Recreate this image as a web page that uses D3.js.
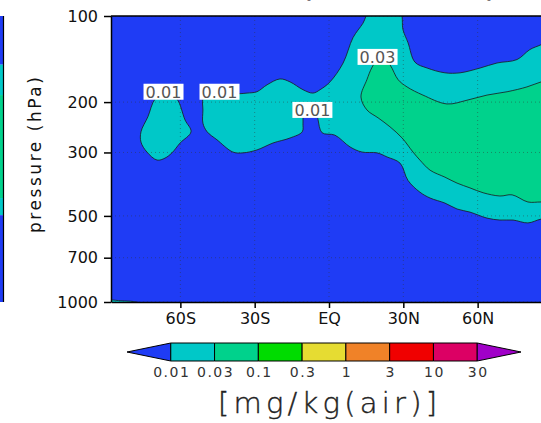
<!DOCTYPE html>
<html>
<head>
<meta charset="utf-8">
<script src="https://cdn.jsdelivr.net/npm/d3@7"></script>
<style>
body{margin:0;background:#fff;}
svg{display:block;font-family:"DejaVu Sans",sans-serif;}
</style>
</head>
<body>
<svg id="chart" width="541" height="423"></svg>
<script>
// contour levels (colorbar) and the fill colours between them
var levels = ["0.01","0.03","0.1","0.3","1","3","10","30"];
var colors = ["#1f3cf5","#00c8c8","#00d28c","#00dc00","#e6dc32","#f08228","#f00000","#dc0064","#a000c8"];

var latTicks = [-60,-30,0,30,60];
var latLabels = ["60S","30S","EQ","30N","60N"];
var presTicks = [100,200,300,500,700,1000];

// contour outlines, [lat, hPa]
var island60S = [[-70.2,195],[-73.1,225],[-75.9,254],[-75.9,276],[-73.5,299],[-69.4,319],[-66.2,314],
  [-63.4,301],[-60.1,278],[-55.7,254],[-58.1,231],[-61.4,195],[-65.8,184]];
var band001 = [[-50.9,195],[-49.5,188],[-42,187],[-36.3,187],[-33.1,186],[-29.1,184],[-25.0,174],[-19.8,166],
  [-15.7,170],[-10.5,181],[-6.5,186],[-3.6,181],[0.4,170],[5.7,146],[9.7,119],[13.7,106],[16.5,96],[28.5,96],
  [29.9,112],[31.9,124],[34.7,145],[39.6,152],[46.8,158],[52.9,158],[61.0,152],[67.8,146],[75.9,142],[81.1,131],
  [85.6,126],[92,118],[93,300],[92,505],[85.6,513],[80.3,529],[74.3,517],[69.0,517],[63.8,509],[56.9,485],
  [51.7,473],[46.8,451],[40.8,433],[36.7,413],[31.9,376],[28.7,327],[23.4,311],[19.4,301],[13.3,299],[8.5,287],
  [2.4,261],[-2.8,256],[-4.4,231],[-4.8,222],[-7.5,215],[-10.2,222],[-10.5,237],[-10.8,254],[-15.7,267],
  [-22.6,278],[-29.1,294],[-34.7,301],[-38.8,299],[-45.2,271],[-49.2,254],[-50.9,237],[-50.9,213]];
var band003 = [[17.4,151],[21.0,137],[24.6,148],[27.9,167],[31.5,177],[37.9,189],[47.6,203],[55.7,197],
  [63.8,189],[71.9,184],[79.9,177],[85.6,170],[92,165],[93,300],[92,450],[85.6,447],[80.3,447],[73.9,422],
  [69.0,426],[62.2,415],[56.9,399],[51.7,384],[46.8,366],[40.8,346],[36.7,319],[33.9,299],[29.5,267],
  [24.6,244],[19.8,227],[15.3,213],[12.9,192],[15.3,167]];
var surfaceBit = [[-92,1010],[-92,985],[-84,990],[-79,996],[-76,1010]];

var contourLabels = [[-66.8,184,"0.01"],[-44.2,184,"0.01"],[-6.7,213,"0.01"],[19.6,139,"0.03"]];

// sliver of the neighbouring panel on the left: [top hPa, bottom hPa, colour index]
var sliverBands = [[100,148,0],[148,189,1],[189,433,2],[433,497,1],[497,1000,0]];

var svg = d3.select("#chart");
svg.append("rect").attr("width",541).attr("height",423).attr("fill","#fff");

var x = d3.scaleLinear().domain([-88,88]).range([111,547]);
var y = d3.scaleLog().domain([100,1000]).range([16,302]);

// title, mostly cut off by the top of the picture
svg.append("text").attr("x",303).attr("y",-2).attr("textLength",192)
  .style("font-size","20px").style("font-weight","bold").text("(annual zonal mean)");

// neighbour panel sliver
svg.selectAll(".sliver").data(sliverBands).enter().append("rect")
  .attr("x",-5).attr("width",8.5)
  .attr("y",function(d){ return y(d[0]); })
  .attr("height",function(d){ return y(d[1]) - y(d[0]); })
  .attr("fill",function(d){ return colors[d[2]]; });
svg.append("line").attr("x1",3.5).attr("x2",3.5).attr("y1",16).attr("y2",302).attr("stroke","#000").attr("stroke-width",1.2);

svg.append("clipPath").attr("id","plotclip").append("rect")
  .attr("x",111).attr("y",16).attr("width",436).attr("height",286);

var plot = svg.append("g").attr("clip-path","url(#plotclip)");
plot.append("rect").attr("x",111).attr("y",16).attr("width",436).attr("height",286).attr("fill",colors[0]);

var outline = d3.line()
  .x(function(d){ return x(d[0]); })
  .y(function(d){ return y(d[1]); })
  .curve(d3.curveCatmullRomClosed.alpha(0.5));

var shapes = [[island60S,1],[band001,1],[band003,2],[surfaceBit,1]];
plot.selectAll(".cnt").data(shapes).enter().append("path")
  .attr("d",function(d){ return outline(d[0]); })
  .attr("fill",function(d){ return colors[d[1]]; })
  .attr("stroke","#1a1a1a").attr("stroke-width",0.8);

// dotted grid
plot.selectAll(".gx").data(latTicks).enter().append("line")
  .attr("x1",function(d){ return x(d); }).attr("x2",function(d){ return x(d); })
  .attr("y1",16).attr("y2",302)
  .attr("stroke","#333").attr("stroke-dasharray","1,3").attr("stroke-opacity",0.45);
plot.selectAll(".gy").data(presTicks).enter().append("line")
  .attr("x1",111).attr("x2",547)
  .attr("y1",function(d){ return y(d); }).attr("y2",function(d){ return y(d); })
  .attr("stroke","#333").attr("stroke-dasharray","1,3").attr("stroke-opacity",0.45);

// contour labels
var lab = plot.selectAll(".lab").data(contourLabels).enter().append("g")
  .attr("transform",function(d){ return "translate(" + x(d[0]) + "," + y(d[1]) + ")"; });
lab.append("rect").attr("x",-20).attr("y",-8).attr("width",40).attr("height",16).attr("fill","#fff");
lab.append("text").attr("text-anchor","middle").attr("dy","0.37em").attr("fill","#555")
  .attr("textLength",36)
  .style("font-size","16px").text(function(d){ return d[2]; });

// top frame line
svg.append("line").attr("x1",111).attr("x2",547).attr("y1",16).attr("y2",16).attr("stroke","#000").attr("stroke-width",1.5);

// axes
var yAxis = svg.append("g").attr("transform","translate(111,0)")
  .call(d3.axisLeft(y).tickValues(presTicks).tickFormat(d3.format("d")).tickSize(7).tickSizeOuter(0).tickPadding(6));
var xAxis = svg.append("g").attr("transform","translate(0,302)")
  .call(d3.axisBottom(x).tickValues(latTicks).tickFormat(function(d,i){ return latLabels[i]; })
    .tickSize(6).tickSizeOuter(0).tickPadding(5));
svg.selectAll(".domain, .tick line").attr("stroke","#000").attr("stroke-width",1.5);
svg.selectAll(".tick text").attr("fill","#111").style("font-size","16px").style("font-family","DejaVu Sans");

svg.append("text").attr("transform","translate(41,155) rotate(-90)").attr("text-anchor","middle")
  .attr("textLength",156).attr("fill","#111").style("font-size","17px").text("pressure (hPa)");

// colorbar
var cb = d3.scaleLinear().domain([-1,8]).range([127,521]);
var cbTop = 343, cbBot = 361, cbMid = 352;
var slots = d3.range(-1,8);
svg.selectAll(".cb").data(slots).enter().append("path")
  .attr("d",function(i){
    if (i === -1) return "M" + cb(-1) + "," + cbMid + "L" + cb(0) + "," + cbTop + "L" + cb(0) + "," + cbBot + "Z";
    if (i === 7) return "M" + cb(7) + "," + cbTop + "L" + cb(8) + "," + cbMid + "L" + cb(7) + "," + cbBot + "Z";
    return "M" + cb(i) + "," + cbTop + "H" + cb(i+1) + "V" + cbBot + "H" + cb(i) + "Z";
  })
  .attr("fill",function(i){ return colors[i+1]; })
  .attr("stroke","#000").attr("stroke-width",1);

svg.selectAll(".cbl").data(levels).enter().append("text")
  .attr("x",function(d,i){ return cb(i) + 1; }).attr("y",377)
  .attr("text-anchor","middle").attr("fill","#333")
  .style("font-size","14px").style("letter-spacing","1.5px").text(function(d){ return d; });

svg.append("text").attr("x",218).attr("y",413).attr("textLength",219)
  .attr("fill","#222").attr("stroke","#222").attr("stroke-width",0.4)
  .style("font-size","29px").style("font-weight","200").text("[mg/kg(air)]");
</script>
</body>
</html>
